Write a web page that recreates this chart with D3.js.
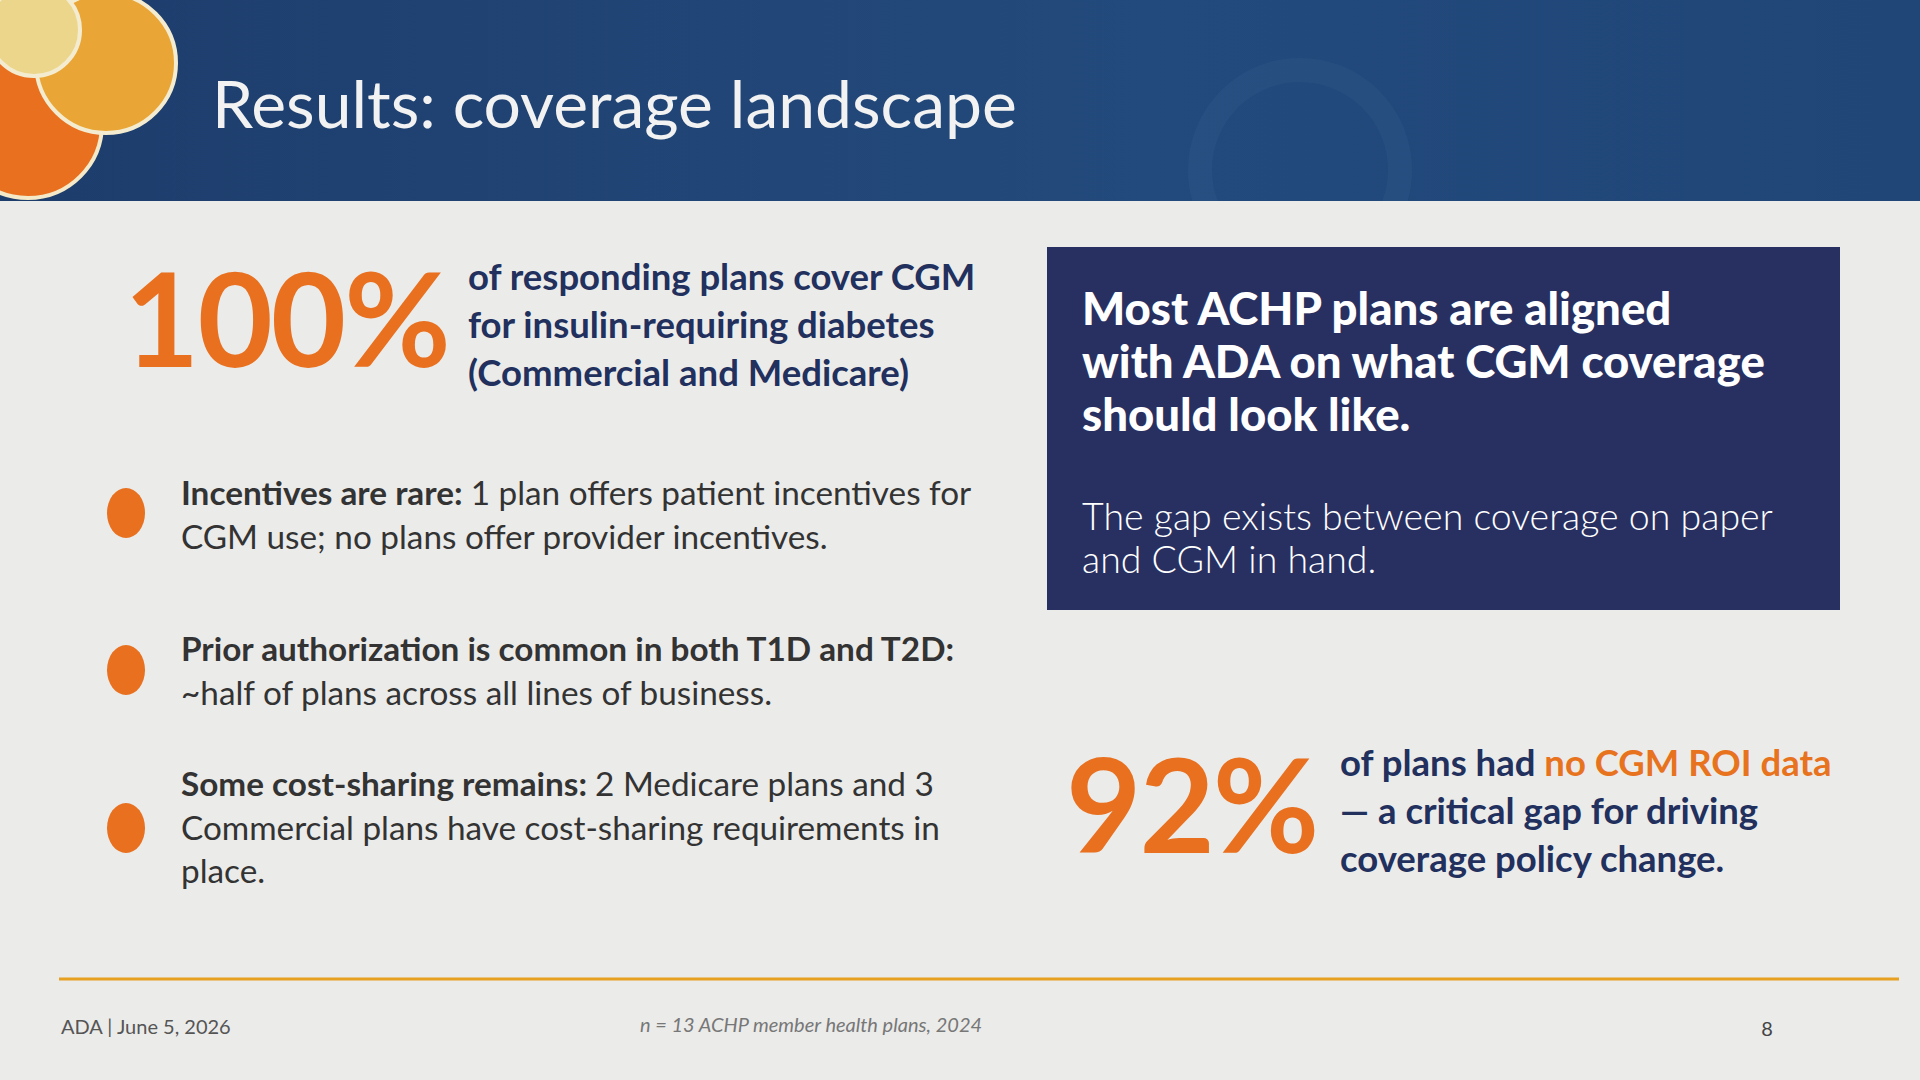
<!DOCTYPE html>
<html>
<head>
<meta charset="utf-8">
<title>Results: coverage landscape</title>
<script src="https://cdn.jsdelivr.net/npm/d3@7"></script>
<style>
  body { margin: 0; background: #ebebea; }
  svg text { font-family: Lato, "Open Sans", sans-serif; }
</style>
</head>
<body>
<script>
var width = 1920, height = 1080;

// slide content
var title = "Results: coverage landscape";
var stat1 = "100%";
var stat1Lines = ["of responding plans cover CGM", "for insulin-requiring diabetes", "(Commercial and Medicare)"];
var bulletLines = [
  [[["Incentives are rare: ", true], ["1 plan offers patient incentives for", false]], [["CGM use; no plans offer provider incentives.", false]]],
  [[["Prior authorization is common in both T1D and T2D:", true]], [["~half of plans across all lines of business.", false]]],
  [[["Some cost-sharing remains: ", true], ["2 Medicare plans and 3", false]], [["Commercial plans have cost-sharing requirements in", false]], [["place.", false]]]
];
var boxHead = ["Most ACHP plans are aligned", "with ADA on what CGM coverage", "should look like."];
var boxBody = ["The gap exists between coverage on paper", "and CGM in hand."];
var stat2 = "92%";
var stat2Lines = [[["of plans had ", "#22305e"], ["no CGM ROI data", "#e8731e"]], [["— a critical gap for driving", "#22305e"]], [["coverage policy change.", "#22305e"]]];
var footLeft = "ADA | June 5, 2026";
var footMid = "n = 13 ACHP member health plans, 2024";
var pageNum = "8";

var orange = "#e8701f", navy = "#22305e";

var svg = d3.select("body").append("svg").attr("width", width).attr("height", height);
var defs = svg.append("defs");
var g = defs.append("linearGradient").attr("id", "hdr").attr("x1", 0).attr("x2", 1);
g.append("stop").attr("offset", 0).attr("stop-color", "#1d3d6c");
g.append("stop").attr("offset", 0.6).attr("stop-color", "#234a7c");
g.append("stop").attr("offset", 1).attr("stop-color", "#1f4677");

svg.append("rect").attr("width", width).attr("height", height).attr("fill", "#ebebea");
svg.append("rect").attr("width", width).attr("height", 201).attr("fill", "url(#hdr)");

var hdrClip = defs.append("clipPath").attr("id", "hc");
hdrClip.append("rect").attr("width", width).attr("height", 201);
var circ = svg.append("g").attr("clip-path", "url(#hc)");
// faint stethoscope hint
circ.append("circle").attr("cx", 1300).attr("cy", 170).attr("r", 100).attr("fill", "none")
  .attr("stroke", "#2d5788").attr("stroke-width", 24).attr("opacity", 0.45);
circ.append("circle").attr("cx", 28).attr("cy", 124).attr("r", 74).attr("fill", "#e8701f").attr("stroke", "#f4e9c8").attr("stroke-width", 4);
circ.append("circle").attr("cx", 106).attr("cy", 63).attr("r", 70).attr("fill", "#e9a636").attr("stroke", "#f4ecd0").attr("stroke-width", 4);
circ.append("circle").attr("cx", 34).attr("cy", 30).attr("r", 46).attr("fill", "#ecd68c").attr("stroke", "#f4ecd0").attr("stroke-width", 4);

svg.append("text").attr("x", 212).attr("y", 128).attr("font-size", 66).attr("fill", "#f2f2f2").text(title);

// stat 1
svg.append("text").attr("x", 124).attr("y", 367).attr("font-size", 130).attr("font-weight", 700)
  .attr("fill", orange).attr("letter-spacing", -2).text(stat1);
svg.selectAll("text.s1").data(stat1Lines).enter().append("text")
  .attr("x", 468).attr("y", function(d, i) { return 290 + i * 48; })
  .attr("font-size", 36.5).attr("font-weight", 700).attr("fill", navy).text(function(d) { return d; });

// bullets
var bulletY = [513, 670, 828];
var textY = [505, 661, 796];
bulletLines.forEach(function(lines, b) {
  svg.append("ellipse").attr("cx", 126).attr("cy", bulletY[b]).attr("rx", 19).attr("ry", 25).attr("fill", orange);
  lines.forEach(function(parts, i) {
    var t = svg.append("text").attr("x", 181).attr("y", textY[b] + i * 43.5).attr("font-size", 33.3).attr("fill", "#333");
    parts.forEach(function(p) {
      t.append("tspan").attr("font-weight", p[1] ? 700 : 400).text(p[0]);
    });
  });
});

// box
svg.append("rect").attr("x", 1047).attr("y", 247).attr("width", 793).attr("height", 363).attr("fill", "#283061");
svg.selectAll("text.bh").data(boxHead).enter().append("text")
  .attr("x", 1082).attr("y", function(d, i) { return 325 + i * 53; })
  .attr("font-size", 45.5).attr("font-weight", 900).attr("fill", "#fff").text(function(d) { return d; });
svg.selectAll("text.bb").data(boxBody).enter().append("text")
  .attr("x", 1082).attr("y", function(d, i) { return 530 + i * 43; })
  .attr("font-size", 37.5).attr("font-weight", 300).attr("fill", "#fff").text(function(d) { return d; });

// stat 2
svg.append("text").attr("x", 1066).attr("y", 853).attr("font-size", 130).attr("font-weight", 700)
  .attr("fill", orange).attr("letter-spacing", -2).text(stat2);
stat2Lines.forEach(function(parts, i) {
  var t = svg.append("text").attr("x", 1340).attr("y", 776 + i * 48).attr("font-size", 36.5).attr("font-weight", 700);
  parts.forEach(function(p) { t.append("tspan").attr("fill", p[1]).text(p[0]); });
});

// footer
svg.append("line").attr("x1", 59).attr("x2", 1899).attr("y1", 979).attr("y2", 979)
  .attr("stroke", "#e8a020").attr("stroke-width", 3);
svg.append("text").attr("x", 61).attr("y", 1034).attr("font-size", 20).attr("fill", "#555").text(footLeft);
svg.append("text").attr("x", 811).attr("y", 1032).attr("font-size", 20).attr("font-style", "italic")
  .attr("text-anchor", "middle").attr("fill", "#777").text(footMid);
svg.append("text").attr("x", 1767).attr("y", 1036).attr("font-size", 20).attr("text-anchor", "middle").attr("fill", "#444").text(pageNum);
</script>
</body>
</html>
